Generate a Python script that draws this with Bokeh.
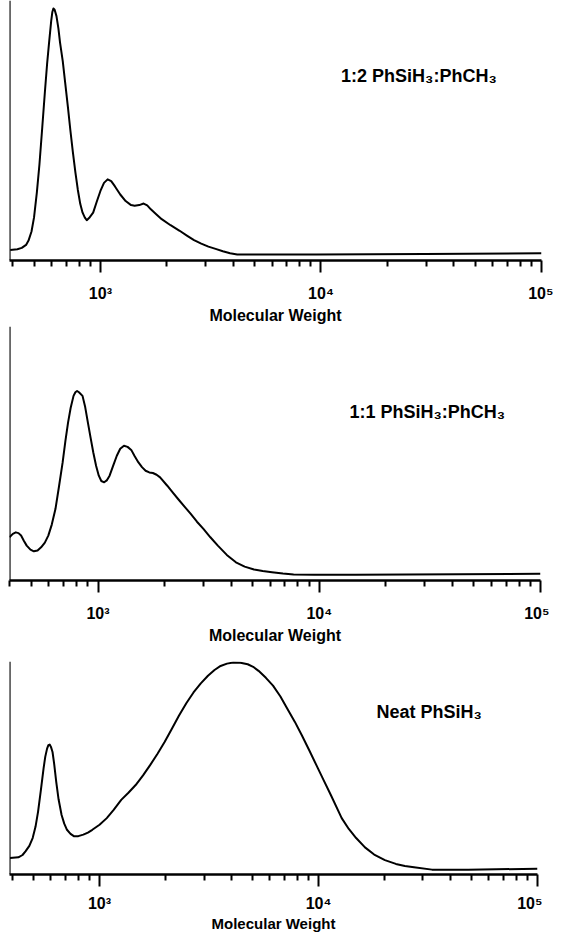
from bokeh.plotting import figure
from bokeh.layouts import column
from bokeh.models import FixedTicker, CustomJSTickFormatter, Label, Span, Range1d
from bokeh.embed import file_html
from bokeh.resources import INLINE

# ---------------- data ----------------
# Panel 1: 1:2 PhSiH3:PhCH3
mw1 = [390, 420, 440, 460, 472, 487, 500, 515, 529, 545, 560, 573, 585, 598, 605,
       612, 620, 632, 645, 656, 675, 692, 712, 730, 750, 770, 790, 810, 830, 850,
       867, 895, 927, 963, 1000, 1038, 1078, 1119, 1162, 1230, 1301, 1377, 1429,
       1500, 1570, 1630, 1693, 1790, 1896, 2080, 2287, 2466, 2657, 2865, 3088,
       3328, 3590, 3873, 4171, 9540, 29460, 100000]
int1 = [4.2, 4.5, 5.0, 6.2, 7.9, 11.5, 17.1, 27, 38.1, 53, 66.9, 78, 86.5, 95, 98.5,
        100, 99.5, 97, 92, 86.5, 79, 70.6, 61, 52, 43, 35, 28, 22.5, 19, 17,
        16.0, 17.2, 19.0, 23.4, 27.6, 30.8, 32.2, 31.5, 29.5, 26.2, 23.6, 22.0, 21.7,
        22.0, 22.6, 21.9, 20.3, 18.4, 16.4, 14.0, 11.8, 9.9, 8.1, 6.7, 5.5,
        4.6, 3.7, 2.9, 2.4, 2.4, 2.6, 2.9]

# Panel 2: 1:1 PhSiH3:PhCH3
mw2 = [398, 412, 425, 437, 449, 462, 476, 495, 513, 533, 553, 575, 596, 618, 642,
       667, 692, 712, 732, 752, 775, 790, 804, 820, 851, 875, 900, 925, 952, 980,
       1008, 1035, 1066, 1095, 1128, 1170, 1216, 1260, 1310, 1360, 1413, 1465,
       1523, 1580, 1641, 1705, 1770, 1840, 1908, 2056, 2170, 2301, 2460, 2625,
       2800, 2995, 3220, 3480, 3820, 4200, 4600, 5070, 5550, 6113, 6850, 7656,
       9500, 14520, 100000]
int2 = [22.8, 24.6, 25.4, 25.0, 23.7, 21.0, 18.4, 16.3, 15.4, 15.8, 17.5, 20.0, 23.7,
        29.5, 37.7, 50.0, 62.3, 73.5, 83.3, 91.0, 97.4, 99.3, 100, 99.3, 97.4, 91.5,
        83.3, 75.5, 67.5, 60.5, 55.3, 52.5, 51.8, 52.8, 55.3, 60.5, 65.8, 69.5,
        71.1, 70.5, 68.9, 65.5, 62.3, 59.8, 57.9, 57.0, 56.7, 55.8, 54.4, 50.0,
        46.6, 43.0, 39.0, 35.1, 31.0, 27.2, 22.8, 18.4, 13.5, 9.6, 7.3, 5.8, 5.0,
        4.4, 3.7, 3.2, 3.0, 3.0, 3.5]

# Panel 3: Neat PhSiH3
mw3 = [390, 426, 445, 459, 478, 495, 510, 524, 540, 555, 565, 576, 584, 592, 600,
       610, 621, 634, 650, 671, 690, 710, 737, 766, 800, 843, 885, 927, 1000,
       1079, 1160, 1256, 1355, 1462, 1580, 1702, 1840, 1982, 2140, 2307, 2490,
       2686, 2900, 3127, 3350, 3571, 3820, 4080, 4400, 4750, 5030, 5323, 5750,
       6197, 6700, 7215, 7800, 8400, 9070, 9778, 10550, 11383, 12760, 13750,
       14855, 16300, 17950, 20100, 22550, 24800, 27280, 32960, 48200, 100000]
int3 = [7.8, 8.1, 9.2, 10.9, 13.5, 17.2, 22.5, 29.7, 40.0, 50.0, 55.5, 59.4, 61.0,
        61.3, 60.2, 57.8, 52.0, 43.8, 35.5, 28.1, 24.0, 21.1, 19.2, 18.0, 18.1,
        18.8, 19.8, 21.1, 23.5, 26.6, 30.5, 35.2, 38.6, 42.2, 46.8, 51.6, 57.0,
        62.5, 68.8, 75.0, 80.8, 85.9, 90.2, 93.8, 96.5, 98.4, 99.5, 100, 99.9,
        99.2, 98.0, 96.1, 92.8, 89.1, 84.0, 78.1, 72.0, 65.6, 58.6, 51.6, 44.5,
        37.5, 26.6, 21.5, 17.2, 12.8, 9.4, 6.8, 5.0, 4.0, 3.4, 2.3, 2.3, 2.7]

major_ticks = [1000, 10000, 100000]
minor_ticks = [400, 500, 600, 700, 800, 900,
               2000, 3000, 4000, 5000, 6000, 7000, 8000, 9000,
               20000, 30000, 40000, 50000, 60000, 70000, 80000, 90000]
tick_labels = ["10\u00b3", "10\u2074", "10\u2075"]
titles = ["1:2 PhSiH\u2083:PhCH\u2083", "1:1 PhSiH\u2083:PhCH\u2083", "Neat PhSiH\u2083"]
x_label = "Molecular Weight"

FONT = "Liberation Sans"


def make_panel(mw, inten, x_start, y_end, left, top, fw, fh, bottom,
               title, tx, ty, std, lab_std, lab_size):
    p = figure(frame_width=fw, frame_height=fh, x_axis_type="log",
               x_range=Range1d(x_start, 1e5), y_range=Range1d(0, y_end),
               y_axis_location=None, toolbar_location=None, output_backend="svg",
               title=None, min_border_left=left, min_border_right=12,
               min_border_top=top, min_border_bottom=bottom)
    p.grid.visible = False
    p.outline_line_color = None
    p.background_fill_color = "white"
    p.border_fill_color = "white"
    p.line(mw, inten, line_color="black", line_width=2, line_join="round")
    p.add_layout(Span(location=x_start, dimension="height",
                      line_color="black", line_width=2.2))
    ax = p.xaxis[0]
    ax.ticker = FixedTicker(ticks=major_ticks, minor_ticks=minor_ticks)
    ax.formatter = CustomJSTickFormatter(
        args=dict(labels=tick_labels),
        code="const i = Math.round(Math.log10(tick)) - 3; return labels[i];")
    ax.axis_line_color = "black"
    ax.axis_line_width = 2.5
    ax.major_tick_line_width = 2
    ax.minor_tick_line_width = 2
    ax.major_tick_out = 12
    ax.major_tick_in = 0
    ax.minor_tick_out = 6
    ax.minor_tick_in = 0
    ax.major_label_text_font = FONT
    ax.major_label_text_font_style = "bold"
    ax.major_label_text_font_size = "16px"
    ax.major_label_text_color = "black"
    ax.major_label_standoff = std
    ax.axis_label = x_label
    ax.axis_label_text_font = FONT
    ax.axis_label_text_font_style = "bold"
    ax.axis_label_text_font_size = lab_size
    ax.axis_label_text_color = "black"
    ax.axis_label_standoff = lab_std
    p.add_layout(Label(x=tx, y=ty, text=title, text_font=FONT,
                       text_font_style="bold", text_font_size="18px",
                       text_align="center", text_baseline="middle",
                       text_color="black"))
    return p


p1 = make_panel(mw1, int1, 387, 103.2, 9, 0, 532, 260, 62,
                titles[0], 27800, 73.4, 12, 2, "16px")
p2 = make_panel(mw2, int2, 398, 134.0, 6, 0, 531, 254, 62,
                titles[1], 30760, 88.7, 12, 2, "16px")
p3 = make_panel(mw3, int3, 388, 100.5, 2, 15, 528, 213, 55,
                titles[2], 32000, 76.7, 8, 0, "15px")

layout = column(p1, p2, p3, spacing=0)
open("out.html", "w").write(file_html(layout, INLINE))
